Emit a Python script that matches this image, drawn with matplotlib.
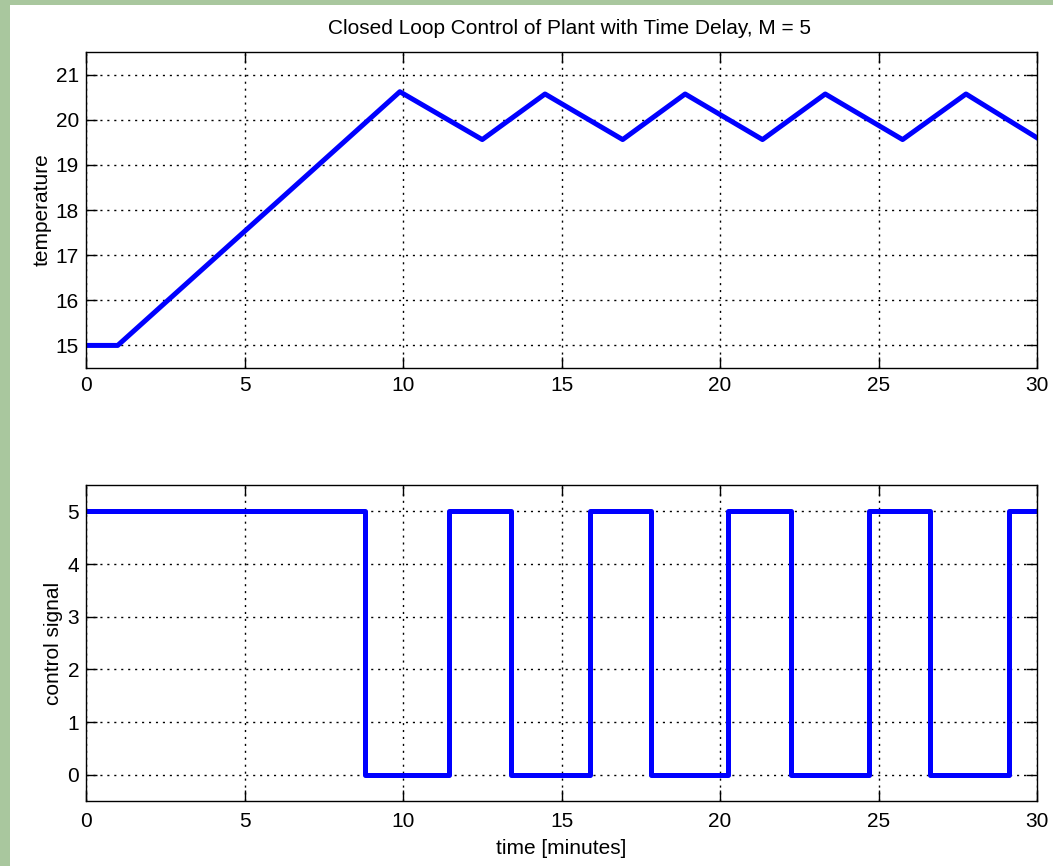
import matplotlib
matplotlib.use("Agg")
import matplotlib.pyplot as plt
from matplotlib.patches import Rectangle

# temperature response (breakpoints)
temp_t = [0, 1.0, 9.9, 12.5, 14.48, 16.93, 18.9, 21.34, 23.32, 25.76, 27.76, 30]
temp_v = [15, 15, 20.62, 19.56, 20.57, 19.56, 20.57, 19.56, 20.57, 19.56, 20.57, 19.6]

# relay control signal, switching times
ctrl_t = [0, 8.79, 11.46, 13.41, 15.89, 17.83, 20.26, 22.23, 24.71, 26.63, 29.13, 30]
ctrl_v = [5, 0, 5, 0, 5, 0, 5, 0, 5, 0, 5, 5]

x_ticks = [0, 5, 10, 15, 20, 25, 30]
temp_ticks = [15, 16, 17, 18, 19, 20, 21]
ctrl_ticks = [0, 1, 2, 3, 4, 5]

plt.rcParams['font.family'] = ['Liberation Sans', 'DejaVu Sans']
fs = 15

W, H = 1053, 866
fig = plt.figure(figsize=(W / 100, H / 100), dpi=100, facecolor='#a9c79e')
fig.add_artist(Rectangle((10 / W, 0), 1 - 10 / W, 1 - 5 / H, transform=fig.transFigure,
                         facecolor='white', edgecolor='none', zorder=-10))

def px_axes(left, top, right, bottom):
    return fig.add_axes([left / W, 1 - bottom / H, (right - left) / W, (bottom - top) / H])

ax1 = px_axes(86, 52, 1037, 368)
ax2 = px_axes(86, 485, 1037, 801)

blue = '#0000ff'
ax1.plot(temp_t, temp_v, color=blue, lw=3.6, solid_joinstyle='round')
ax2.plot(ctrl_t, ctrl_v, color=blue, lw=3.6, drawstyle='steps-post')

for ax, yt, ylim in [(ax1, temp_ticks, (14.5, 21.5)), (ax2, ctrl_ticks, (-0.5, 5.5))]:
    ax.set_xlim(0, 30)
    ax.set_ylim(*ylim)
    ax.set_xticks(x_ticks)
    ax.set_yticks(yt)
    ax.tick_params(direction='in', length=8, width=1, top=True, right=True, labelsize=fs)
    ax.tick_params(axis='y', pad=5)
    ax.grid(True, color='black', linestyle=(0, (1.5, 3.5)), linewidth=1)
    for s in ax.spines.values():
        s.set_linewidth(1)
    ax.set_facecolor('white')

ax1.tick_params(axis='x', pad=6)
ax2.tick_params(axis='x', pad=8)

ax1.set_ylabel('temperature', fontsize=fs)
ax1.yaxis.set_label_coords(-0.036, 0.5)
ax2.set_ylabel('control signal', fontsize=fs)
ax2.yaxis.set_label_coords(-0.024, 0.5)
ax2.set_xlabel('time [minutes]', fontsize=fs, labelpad=6)
fig.text(569 / W, 1 - 28 / H, 'Closed Loop Control of Plant with Time Delay, M = 5',
         ha='center', va='center', fontsize=fs)

fig.savefig('out.png', dpi=100, facecolor=fig.get_facecolor())
